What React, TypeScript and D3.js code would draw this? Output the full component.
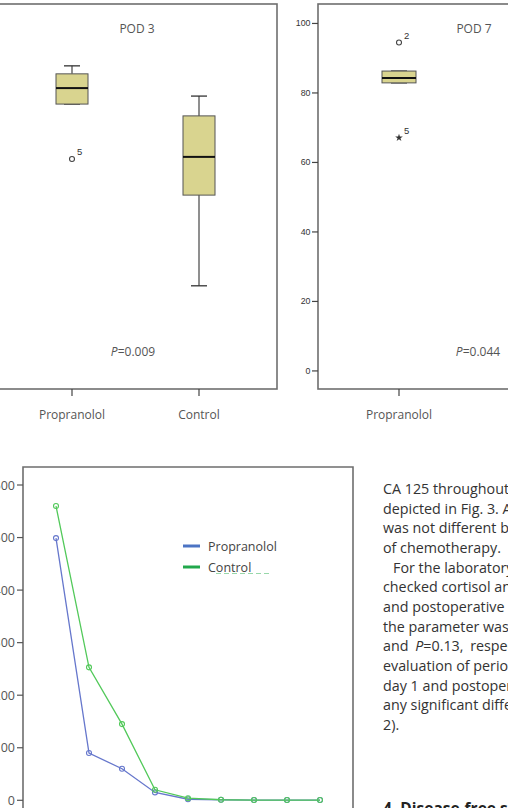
import React from "react";
import * as d3 from "d3";

// ---- Data ----
const groups = ["Propranolol", "Control"];
// POD 3 box stats: [lowWhisker, q1, median, q3, highWhisker]
const pod3Propranolol = [76.8, 76.8, 81.4, 85.5, 87.8];
const pod3Control = [24.5, 50.6, 61.6, 73.4, 79.1];
const pod3Outliers = [{ group: "Propranolol", value: 61, label: "5", type: "circle" }];
const pod7Propranolol = [82.9, 82.9, 84.3, 86.3, 86.3];
const pod7Outliers = [
  { group: "Propranolol", value: 94.5, label: "2", type: "circle" },
  { group: "Propranolol", value: 67.1, label: "5", type: "star" },
];
const boxTicks = [0, 20, 40, 60, 80, 100];

const timePoints = ["1", "2", "3", "4", "5", "6", "7", "8", "9"];
const propranololSeries = [499, 90, 60, 15, 2, 1, 0.5, 0.5, 0.5];
const controlSeries = [560, 253, 145, 20, 4, 1, 0.5, 0.5, 0.5];
const lineTicks = [0, 100, 200, 300, 400, 500, 600];

const paragraphLines = [
  "CA 125 throughout the",
  "depicted in Fig. 3. A",
  "was not different be",
  "of chemotherapy.",
  "For the laboratory",
  "checked cortisol and",
  "and postoperative day",
  "the parameter was not",
  "and P=0.13, respective",
  "evaluation of perioper",
  "day 1 and postoperativ",
  "any significant differen",
  "2).",
];

const FIG = "'Open Sans', 'Noto Sans', sans-serif";
const ARIAL = "'Liberation Sans', Arial, sans-serif";
const BOX_FILL = "#d9d48f";
const FRAME = "#6e6e6e";

function BoxPanel({
  x0, x1, xs, ys, boxes, outliers, title, titleX, pText, pX, showAxis, bw, labels,
}: any) {
  const [yBot, yTop] = ys.range();
  return (
    <g>
      <rect x={x0} y={yTop} width={x1 - x0} height={yBot - yTop} fill="none" stroke={FRAME} strokeWidth={1.6} />
      {showAxis &&
        boxTicks.map((t) => (
          <g key={t}>
            <line x1={x0 - 6} x2={x0} y1={ys(t)} y2={ys(t)} stroke="#444" strokeWidth={1.2} />
            <text x={x0 - 7.5} y={ys(t) + 3} fontSize={8.8} fontFamily={ARIAL} textAnchor="end" fill="#333">{t}</text>
          </g>
        ))}
      {labels.map((g: string) => (
        <g key={g}>
          <line x1={xs(g)} x2={xs(g)} y1={yBot} y2={yBot + 7} stroke="#444" strokeWidth={1.2} />
          <text x={xs(g)} y={419} fontSize={12} fontFamily={FIG} textAnchor="middle" fill="#555">{g}</text>
        </g>
      ))}
      {boxes.map((b: any) => {
        const cx = xs(b.group);
        const [lo, q1, med, q3, hi] = b.stats;
        return (
          <g key={b.group}>
            <line x1={cx} x2={cx} y1={ys(hi)} y2={ys(q3)} stroke="#333" strokeWidth={1.1} />
            <line x1={cx} x2={cx} y1={ys(q1)} y2={ys(lo)} stroke="#333" strokeWidth={1.1} />
            <line x1={cx - 8} x2={cx + 8} y1={ys(hi)} y2={ys(hi)} stroke="#333" strokeWidth={1.3} />
            <line x1={cx - 8} x2={cx + 8} y1={ys(lo)} y2={ys(lo)} stroke="#333" strokeWidth={1.3} />
            <rect x={cx - bw / 2} y={ys(q3)} width={bw} height={ys(q1) - ys(q3)} fill={BOX_FILL} stroke="#555" strokeWidth={1} />
            <line x1={cx - bw / 2} x2={cx + bw / 2} y1={ys(med)} y2={ys(med)} stroke="#111" strokeWidth={2} />
          </g>
        );
      })}
      {outliers.map((o: any, i: number) => {
        const cx = xs(o.group);
        const cy = ys(o.value);
        return (
          <g key={i}>
            {o.type === "circle" ? (
              <circle cx={cx} cy={cy} r={2.5} fill="none" stroke="#444" strokeWidth={1.1} />
            ) : (
              <path d={d3.symbol(d3.symbolStar, 18)() as string} transform={`translate(${cx},${cy})`} fill="#333" />
            )}
            <text x={cx + 5} y={cy - 4} fontSize={9.5} fontFamily={ARIAL} fill="#333">{o.label}</text>
          </g>
        );
      })}
      <text x={titleX} y={33} fontSize={12} fontFamily={FIG} textAnchor="middle" fill="#555">{title}</text>
      <text x={pX} y={356} fontSize={12} fontFamily={FIG} textAnchor="middle" fill="#555">
        <tspan fontStyle="italic">P</tspan>
        {pText}
      </text>
    </g>
  );
}

export default function App() {
  const ys = d3.scaleLinear().domain([-5.2, 105.6]).range([389, 4]);
  const xsLeft = d3.scalePoint<string>().domain(groups).range([72, 199]);
  const xsRight = d3.scalePoint<string>().domain(groups).range([399, 526]);

  const lx = d3.scalePoint<string>().domain(timePoints).range([56, 320]);
  const ly = d3.scaleLinear().domain([0, 600]).range([800.3, 485]);
  const lineGen = d3
    .line<number>()
    .x((_, i) => lx(timePoints[i]) as number)
    .y((d) => ly(d));

  const series = [
    { name: "Propranolol", values: propranololSeries, color: "#6677cc", legend: "#4c74c4" },
    { name: "Control", values: controlSeries, color: "#52c95a", legend: "#22a84c" },
  ];

  return (
    <div style={{ position: "fixed", left: 0, top: 0, width: 508, height: 808, overflow: "hidden", background: "#fff" }}>
      <svg width={508} height={808} style={{ display: "block" }}>
        <rect width={508} height={808} fill="#fff" />
        <BoxPanel
          x0={-9} x1={277} xs={xsLeft} ys={ys} bw={32} labels={groups}
          boxes={[
            { group: "Propranolol", stats: pod3Propranolol },
            { group: "Control", stats: pod3Control },
          ]}
          outliers={pod3Outliers}
          title="POD 3" titleX={137} pText="=0.009" pX={133} showAxis={false}
        />
        <BoxPanel
          x0={318} x1={620} xs={xsRight} ys={ys} bw={34} labels={[groups[0]]}
          boxes={[{ group: "Propranolol", stats: pod7Propranolol }]}
          outliers={pod7Outliers}
          title="POD 7" titleX={474} pText="=0.044" pX={478} showAxis={true}
        />

        {/* Line chart */}
        <g>
          <path d={`M23,830 V467 H353 V830`} fill="none" stroke={FRAME} strokeWidth={1.6} />
          {lineTicks.map((t) => (
            <g key={t}>
              <line x1={17} x2={23} y1={ly(t)} y2={ly(t)} stroke="#555" strokeWidth={1.2} />
              <text x={15} y={ly(t) + 4.5} fontSize={12.5} fontFamily={FIG} textAnchor="end" fill="#555">{t}</text>
            </g>
          ))}
          {series.map((s) => (
            <g key={s.name}>
              <path d={lineGen(s.values) as string} fill="none" stroke={s.color} strokeWidth={1.3} />
              {s.values.map((v, i) => (
                <circle key={i} cx={lx(timePoints[i])} cy={ly(v)} r={2.5} fill="none" stroke={s.color} strokeWidth={1.1} />
              ))}
            </g>
          ))}
          {series.map((s, i) => (
            <g key={s.name} transform={`translate(0,${546 + i * 21})`}>
              <line x1={183} x2={200} y1={0} y2={0} stroke={s.legend} strokeWidth={3} />
              <text x={208} y={4.5} fontSize={12.5} fontFamily={FIG} fill="#444">{s.name}</text>
            </g>
          ))}
          <line x1={216} x2={270} y1={573.5} y2={573.5} stroke="#7fcf95" strokeWidth={1.2} strokeDasharray="5 3" opacity={0.8} />
        </g>

        {/* Paragraph text */}
        <g fontFamily={FIG} fontSize={14.3} fill="#333">
          {paragraphLines.map((l, i) => {
            const y = 494 + i * 19.65;
            const x = i === 4 ? 393 : 383;
            if (l.startsWith("and P=")) {
              return (
                <text key={i} x={x} y={y} wordSpacing={3}>
                  and <tspan fontStyle="italic">P</tspan>=0.13, respective
                </text>
              );
            }
            return (
              <text key={i} x={x} y={y}>{l}</text>
            );
          })}
          <text x={383} y={814} fontSize={15.5} fontWeight="bold" fill="#222">4. Disease-free survival</text>
        </g>
      </svg>
    </div>
  );
}
